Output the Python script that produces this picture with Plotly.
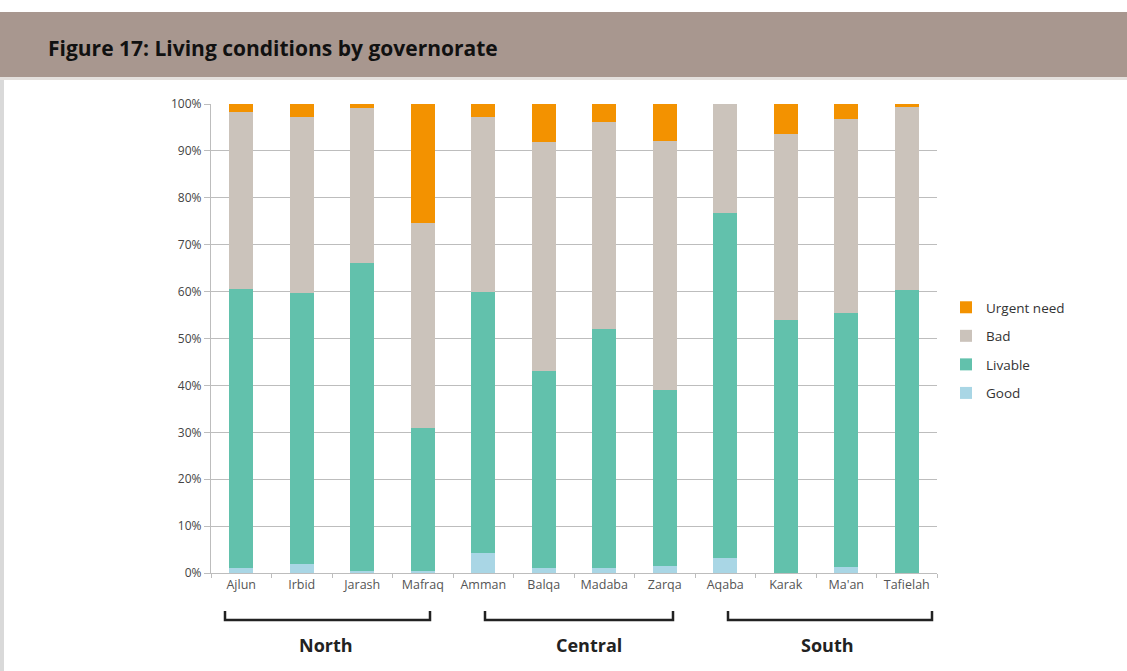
import plotly.graph_objects as go

governorates = ["Ajlun", "Irbid", "Jarash", "Mafraq", "Amman", "Balqa", "Madaba",
                "Zarqa", "Aqaba", "Karak", "Ma'an", "Tafielah"]
good = [1.0, 2.0, 0.5, 0.5, 4.3, 1.0, 1.0, 1.5, 3.3, 0.0, 1.3, 0.0]
livable = [59.6, 57.7, 65.6, 30.5, 55.7, 42.0, 51.0, 37.5, 73.5, 54.0, 54.2, 60.4]
bad = [37.6, 37.6, 33.0, 43.7, 37.3, 48.8, 44.2, 53.2, 23.2, 39.7, 41.2, 38.9]
urgent = [1.8, 2.7, 0.9, 25.3, 2.7, 8.2, 3.8, 7.8, 0.0, 6.3, 3.3, 0.7]
y_ticks = [0, 10, 20, 30, 40, 50, 60, 70, 80, 90, 100]
y_tick_labels = ["0%", "10%", "20%", "30%", "40%", "50%", "60%", "70%", "80%", "90%", "100%"]
regions = ["North", "Central", "South"]

W, H = 1127, 671
L, R, T, B = 211, 937, 104, 573


def px(x):
    return (x - L) / (R - L)


def py(y):
    return (B - y) / (B - T)


series = [("Good", good, "#a9d6e5", 4), ("Livable", livable, "#62c1ac", 3),
          ("Bad", bad, "#cbc3bb", 2), ("Urgent need", urgent, "#f39200", 1)]

fig = go.Figure()
for name, vals, col, rank in series:
    fig.add_trace(go.Bar(x=governorates, y=vals, name=name, marker_color=col,
                         marker_line_width=0, legendgroup=name, legendrank=rank))

fig.update_layout(
    width=W, height=H, barmode="stack", bargap=0.6,
    margin=dict(l=L, r=W - R, t=T, b=H - B, autoexpand=False),
    paper_bgcolor="white", plot_bgcolor="white",
    font=dict(family="Open Sans, sans-serif", color="#444"),
    legend=dict(x=px(946), y=py(292), xanchor="left", yanchor="top",
                traceorder="grouped", tracegroupgap=8,
                font=dict(size=13.5, color="#333"), itemwidth=30),
    showlegend=True,
)
fig.update_yaxes(range=[0, 100], tickvals=y_ticks, ticktext=y_tick_labels,
                 showgrid=True, gridcolor="#bdbdbd", gridwidth=1.2,
                 showline=True, linecolor="#bdbdbd", linewidth=1.2,
                 ticks="outside", ticklen=6, tickcolor="#bdbdbd",
                 tickfont=dict(size=12, color="#444"), zeroline=False)
fig.update_xaxes(showline=True, linecolor="#bdbdbd", linewidth=1.2,
                 ticks="outside", tickson="boundaries", ticklen=4, tickcolor="#bdbdbd",
                 tickfont=dict(size=12.5, color="#555"))

shapes = []
shapes.append(dict(type="rect", xref="paper", yref="paper", x0=px(0), x1=px(W),
                   y0=py(77), y1=py(12), fillcolor="#a8978f", line_width=0, layer="below"))
shapes.append(dict(type="rect", xref="paper", yref="paper", x0=px(0), x1=px(W),
                   y0=py(80), y1=py(77), fillcolor="#e4e0dd", line_width=0, layer="below"))
shapes.append(dict(type="rect", xref="paper", yref="paper", x0=px(0), x1=px(4),
                   y0=py(H), y1=py(80), fillcolor="#d9d9d9", line_width=0, layer="below"))
brackets = [(225, 430), (485, 673), (728, 932)]
for x0, x1 in brackets:
    shapes.append(dict(type="path", xref="paper", yref="paper",
                       path=f"M {px(x0)},{py(611)} L {px(x0)},{py(620)} L {px(x1)},{py(620)} L {px(x1)},{py(611)}",
                       line=dict(color="#222", width=2.5)))
fig.update_layout(shapes=shapes)

annotations = [dict(text="<b>Figure 17: Living conditions by governorate</b>", xref="paper", yref="paper",
                    x=px(46), y=py(48), xanchor="left", yanchor="middle", showarrow=False,
                    font=dict(size=21, color="#111", family="Open Sans, sans-serif"))]
label_x = [326, 589, 827]
for name, cx in zip(regions, label_x):
    annotations.append(dict(text=f"<b>{name}</b>", xref="paper", yref="paper", x=px(cx), y=py(645),
                            xanchor="center", yanchor="middle", showarrow=False,
                            font=dict(size=18, color="#222")))
fig.update_layout(annotations=annotations)

fig.write_html("out.html", config={"displayModeBar": False},
               post_script="document.body.style.margin='0px';")
